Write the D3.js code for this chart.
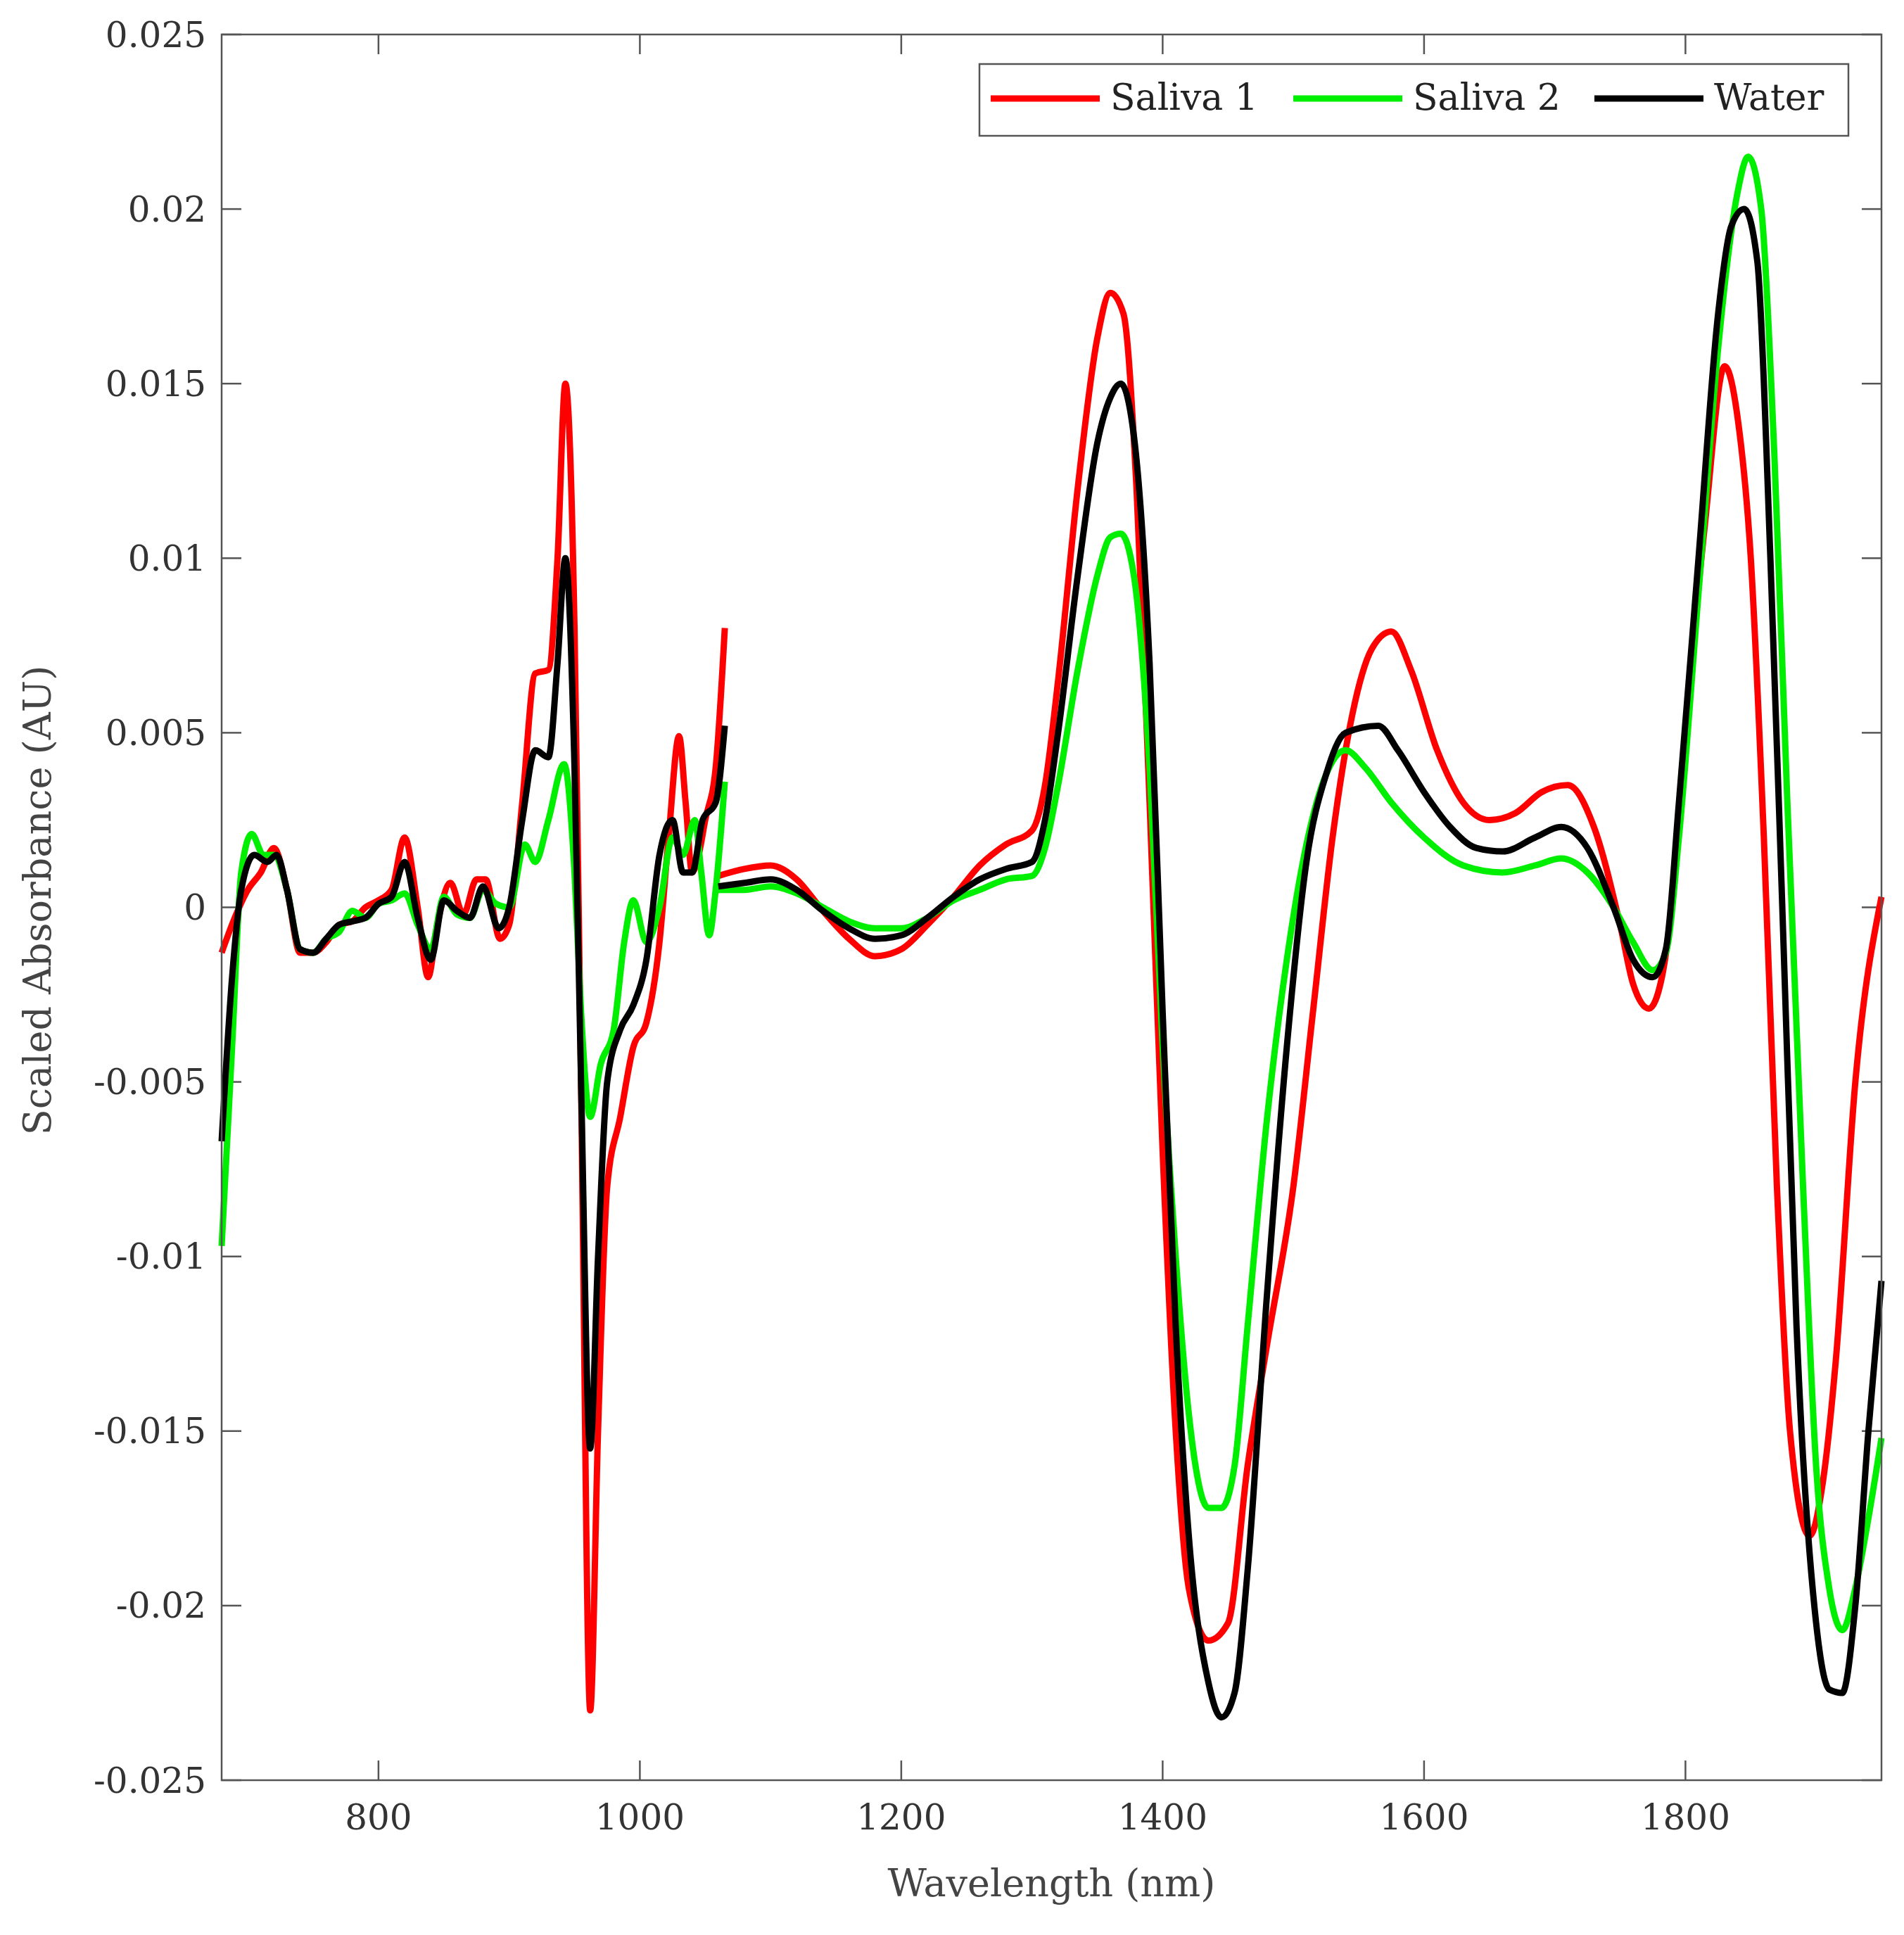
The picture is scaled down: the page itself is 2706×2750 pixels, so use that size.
<!DOCTYPE html>
<html><head><meta charset="utf-8">
<script src="https://cdn.jsdelivr.net/npm/d3@7"></script>
<style>body{margin:0;background:#fff}svg{font-family:"DejaVu Serif","Liberation Serif",serif}</style>
</head><body><svg id="c" width="2706" height="2750"></svg>
<script>
// [nm, value] pairs, two segments per series (detector change near 1060 nm)
const saliva1 = [
 [[680,-0.0013],[690,-0.0003],[700,0.0005],[710,0.001],[720,0.0017],[730,0.0005],[740,-0.0013],[750,-0.0013],[760,-0.001],[770,-0.0005],[780,-0.0004],[790,0],[800,0.0002],[810,0.0005],[820,0.002],[830,0],[838,-0.002],[845,-0.0005],[855,0.0007],[865,-0.0002],[875,0.0008],[882,0.0008],[893,-0.0009],[900,-0.0005],[910,0.003],[920,0.0067],[930,0.0068],[937,0.01],[943,0.015],[950,0.008],[955,-0.005],[962,-0.023],[968,-0.015],[975,-0.008],[985,-0.006],[995,-0.004],[1005,-0.0033],[1015,-0.001],[1022,0.002],[1030,0.0049],[1035,0.003],[1040,0.001],[1045,0.0015],[1050,0.0025],[1058,0.004],[1065,0.008]],
 [[1060,0.0009],[1080,0.0011],[1100,0.0012],[1120,0.0008],[1140,-0.0001],[1160,-0.0009],[1180,-0.0014],[1200,-0.0012],[1220,-0.0005],[1240,0.0003],[1260,0.0012],[1280,0.0018],[1300,0.0022],[1310,0.0035],[1320,0.0065],[1335,0.012],[1350,0.0163],[1360,0.0176],[1370,0.017],[1380,0.012],[1390,0.003],[1400,-0.007],[1410,-0.015],[1420,-0.0195],[1435,-0.021],[1450,-0.0205],[1465,-0.016],[1480,-0.0125],[1500,-0.008],[1515,-0.003],[1530,0.002],[1545,0.0055],[1560,0.0074],[1575,0.0079],[1590,0.0068],[1610,0.0045],[1630,0.003],[1650,0.0025],[1670,0.0027],[1690,0.0033],[1710,0.0035],[1730,0.0023],[1750,-0.0005],[1760,-0.0022],[1772,-0.0029],[1782,-0.002],[1792,0.001],[1800,0.005],[1815,0.011],[1830,0.0155],[1840,0.014],[1850,0.01],[1860,0.002],[1870,-0.008],[1880,-0.015],[1895,-0.018],[1905,-0.0165],[1915,-0.013],[1930,-0.005],[1950,0.0003]]
];
const saliva2 = [
 [[680,-0.0097],[688,-0.004],[695,0.001],[703,0.0021],[712,0.0015],[720,0.0015],[730,0.0005],[740,-0.0012],[750,-0.0013],[760,-0.0009],[770,-0.0007],[780,-0.0001],[790,-0.0003],[800,0.0001],[810,0.0002],[820,0.0004],[830,-0.0005],[840,-0.0012],[850,0.0003],[860,-0.0002],[870,-0.0003],[880,0.0005],[890,0.0001],[900,0],[912,0.0018],[920,0.0013],[930,0.0025],[942,0.0041],[950,0.001],[955,-0.003],[962,-0.006],[970,-0.0045],[980,-0.0035],[988,-0.001],[995,0.0002],[1005,-0.001],[1015,0],[1025,0.002],[1033,0.0015],[1042,0.0025],[1047,0.001],[1053,-0.0008],[1058,0.0005],[1065,0.0036]],
 [[1060,0.0005],[1080,0.0005],[1100,0.0006],[1120,0.0004],[1140,0],[1160,-0.0004],[1180,-0.0006],[1200,-0.0006],[1220,-0.0003],[1240,0.0002],[1260,0.0005],[1280,0.0008],[1300,0.0009],[1310,0.0017],[1320,0.0035],[1335,0.0068],[1350,0.0095],[1360,0.0106],[1368,0.0107],[1378,0.0095],[1390,0.004],[1400,-0.004],[1410,-0.01],[1420,-0.0145],[1435,-0.0172],[1445,-0.0172],[1455,-0.016],[1465,-0.012],[1480,-0.006],[1495,-0.0015],[1510,0.0018],[1525,0.0038],[1540,0.0045],[1555,0.004],[1575,0.003],[1600,0.002],[1630,0.0012],[1660,0.001],[1685,0.0012],[1705,0.0014],[1725,0.001],[1745,0],[1760,-0.001],[1775,-0.0018],[1785,-0.0013],[1795,0.002],[1810,0.009],[1825,0.016],[1840,0.0205],[1848,0.0215],[1858,0.02],[1868,0.013],[1878,0.003],[1890,-0.008],[1900,-0.016],[1910,-0.0195],[1920,-0.0207],[1930,-0.0195],[1940,-0.0175],[1950,-0.0152]]
];
const water = [
 [[680,-0.0067],[688,-0.002],[695,0.0005],[705,0.0015],[715,0.0013],[722,0.0015],[730,0.0005],[740,-0.0012],[750,-0.0013],[760,-0.0009],[770,-0.0005],[780,-0.0004],[790,-0.0003],[800,0.0001],[810,0.0003],[820,0.0013],[830,-0.0003],[840,-0.0015],[850,0.0002],[860,-0.0001],[870,-0.0003],[880,0.0006],[892,-0.0006],[900,0],[910,0.0025],[920,0.0045],[930,0.0043],[937,0.007],[943,0.01],[950,0.004],[955,-0.005],[962,-0.0155],[968,-0.01],[975,-0.005],[985,-0.0035],[995,-0.0028],[1005,-0.0015],[1015,0.0015],[1025,0.0025],[1033,0.001],[1040,0.001],[1048,0.0025],[1058,0.003],[1065,0.0052]],
 [[1060,0.0006],[1080,0.0007],[1100,0.0008],[1120,0.0005],[1140,-0.0001],[1160,-0.0006],[1180,-0.0009],[1200,-0.0008],[1220,-0.0003],[1240,0.0003],[1260,0.0008],[1280,0.0011],[1300,0.0013],[1310,0.0025],[1320,0.005],[1335,0.0095],[1350,0.0133],[1360,0.0146],[1368,0.015],[1378,0.0135],[1390,0.007],[1400,-0.003],[1410,-0.012],[1420,-0.018],[1435,-0.0222],[1445,-0.0232],[1455,-0.0225],[1465,-0.019],[1480,-0.011],[1495,-0.004],[1510,0.0013],[1525,0.0038],[1540,0.005],[1565,0.0052],[1580,0.0045],[1600,0.0033],[1620,0.0023],[1640,0.0017],[1660,0.0016],[1685,0.002],[1705,0.0023],[1725,0.0017],[1745,0],[1760,-0.0015],[1775,-0.002],[1785,-0.0012],[1795,0.003],[1810,0.01],[1825,0.017],[1835,0.0195],[1845,0.02],[1855,0.0185],[1865,0.01],[1875,-0.001],[1885,-0.012],[1900,-0.0205],[1910,-0.0224],[1920,-0.0225],[1930,-0.02],[1940,-0.015],[1950,-0.0107]]
];
const seriesNames = ["Saliva 1", "Saliva 2", "Water"];
const seriesColors = ["#ff0000", "#00ee00", "#000000"];
const xTicks = [800, 1000, 1200, 1400, 1600, 1800];
const yTicks = [-0.025,-0.02,-0.015,-0.01,-0.005,0,0.005,0.01,0.015,0.02,0.025];

const svg = d3.select('#c');
const L = 315, R = 2674, T = 49, B = 2530;
const x = d3.scaleLinear().domain([680, 1950]).range([L, R]);
const y = d3.scaleLinear().domain([-0.025, 0.025]).range([B, T]);
const tickLen = 28;

const grid = svg.append('g').attr('stroke', '#555').attr('stroke-width', 2.5);
xTicks.forEach(t => {
  grid.append('line').attr('x1', x(t)).attr('x2', x(t)).attr('y1', B).attr('y2', B - tickLen);
  grid.append('line').attr('x1', x(t)).attr('x2', x(t)).attr('y1', T).attr('y2', T + tickLen);
});
yTicks.forEach(t => {
  grid.append('line').attr('y1', y(t)).attr('y2', y(t)).attr('x1', L).attr('x2', L + tickLen);
  grid.append('line').attr('y1', y(t)).attr('y2', y(t)).attr('x1', R).attr('x2', R - tickLen);
});

const line = d3.line().x(d => x(d[0])).y(d => y(d[1])).curve(d3.curveMonotoneX);
[saliva1, saliva2, water].forEach((s, i) => {
  s.forEach(seg => svg.append('path').datum(seg).attr('d', line)
    .attr('fill', 'none').attr('stroke', seriesColors[i]).attr('stroke-width', 9)
    .attr('stroke-linejoin', 'round'));
});

svg.append('rect').attr('x', L).attr('y', T).attr('width', R - L).attr('height', B - T)
  .attr('fill', 'none').attr('stroke', '#555').attr('stroke-width', 2.5);

const fmt = v => v === 0 ? "0" : String(+v.toFixed(3));
svg.append('g').selectAll('text').data(yTicks).join('text')
  .attr('x', L - 22).attr('y', d => y(d)).attr('dy', '0.35em').attr('text-anchor', 'end')
  .attr('font-size', 50).attr('fill', '#333').text(fmt);
svg.append('g').selectAll('text').data(xTicks).join('text')
  .attr('x', d => x(d)).attr('y', B + 70).attr('text-anchor', 'middle')
  .attr('font-size', 50).attr('fill', '#333').text(d => d);

svg.append('text').attr('x', x(1315)).attr('y', 2695).attr('text-anchor', 'middle')
  .attr('font-size', 54).attr('fill', '#444').text('Wavelength (nm)');
svg.append('text').attr('transform', `translate(72,${(T + B) / 2 - 10}) rotate(-90)`)
  .attr('text-anchor', 'middle').attr('font-size', 54).attr('fill', '#444').text('Scaled Absorbance (AU)');

// legend
const lg = svg.append('g');
lg.append('rect').attr('x', 1392).attr('y', 91).attr('width', 1235).attr('height', 102)
  .attr('fill', '#fff').attr('stroke', '#555').attr('stroke-width', 2.5);
const legX = [1408, 1838, 2266];
seriesNames.forEach((n, i) => {
  lg.append('line').attr('x1', legX[i]).attr('x2', legX[i] + 155).attr('y1', 140).attr('y2', 140)
    .attr('stroke', seriesColors[i]).attr('stroke-width', 9);
  lg.append('text').attr('x', legX[i] + 170).attr('y', 138).attr('dy', '0.35em')
    .attr('font-size', 52).attr('fill', '#222').text(n);
});
</script></body></html>
